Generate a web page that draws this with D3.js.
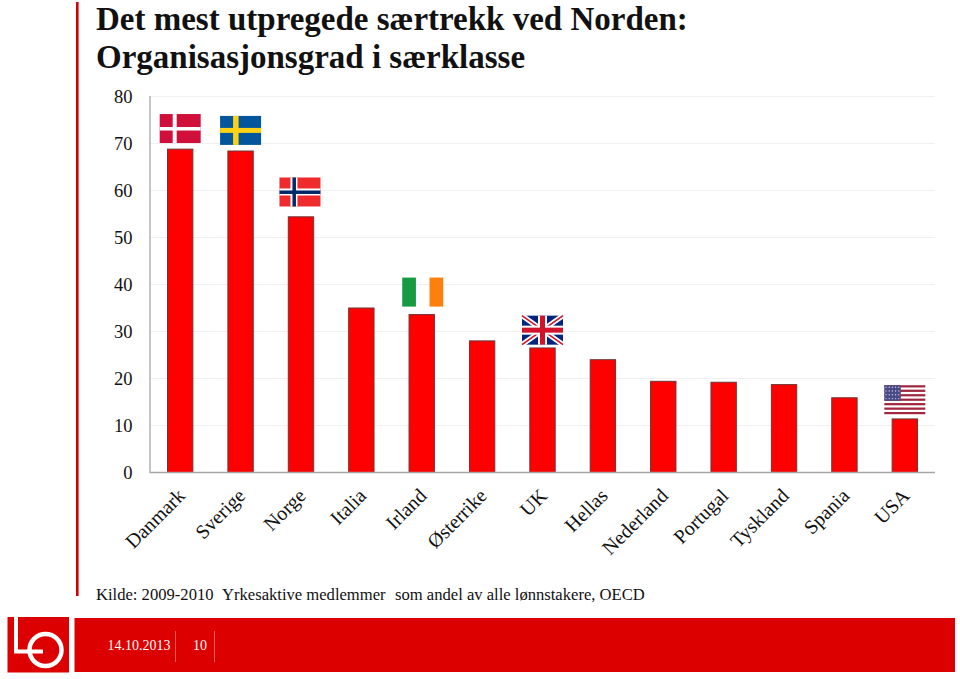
<!DOCTYPE html>
<html><head><meta charset="utf-8">
<script src="https://cdn.jsdelivr.net/npm/d3@7"></script>
<style>html,body{margin:0;padding:0;background:#fff}svg{display:block}text{font-family:"Liberation Serif",serif}</style>
</head><body><svg id="c" width="960" height="679"></svg>
<script>
const categories=["Danmark","Sverige","Norge","Italia","Irland","Østerrike","UK","Hellas","Nederland","Portugal","Tyskland","Spania","USA"];
const values=[68.8,68.4,54.4,35.0,33.6,28.0,26.5,24.0,19.4,19.2,18.7,15.9,11.4];
const yTicks=[0,10,20,30,40,50,60,70,80];
const titleLines=["Det mest utpregede særtrekk ved Norden:","Organisasjonsgrad i særklasse"];
const sourceParts=["Kilde: 2009-2010","Yrkesaktive medlemmer","som andel av alle lønnstakere, OECD"];
const footerDate="14.10.2013";
const footerPage="10";
const flagLevels={Danmark:70.1,Sverige:69.7,Norge:56.6,Irland:35.3,UK:27.2,USA:12.4};
const flagNudge={Norge:-1,Irland:1};

const svg=d3.select("#c");
const y=d3.scaleLinear().domain([0,80]).range([472.5,96.5]);
const x=d3.scaleBand().domain(categories).range([150,935]).paddingInner(0.58).paddingOuter(0.29);

// left rule
svg.append("rect").attr("x",76).attr("y",2).attr("width",2.6).attr("height",594).attr("fill","#d40000");

// title
svg.selectAll("text.t").data(titleLines).join("text").attr("class","t")
 .attr("x",96).attr("y",(d,i)=>30+i*38).attr("font-size",33).attr("font-weight","bold").attr("fill","#111").text(d=>d);

// grid
svg.append("g").selectAll("line").data(yTicks.slice(1)).join("line")
 .attr("x1",150).attr("x2",935).attr("y1",d=>y(d)).attr("y2",d=>y(d)).attr("stroke","#f0f0f0").attr("stroke-width",1);

// y tick labels
svg.append("g").selectAll("text").data(yTicks).join("text")
 .attr("x",132.5).attr("y",d=>y(d)+6.5).attr("text-anchor","end").attr("font-size",18.5).attr("fill","#111").text(d=>d);

// bars
svg.append("g").selectAll("rect").data(categories).join("rect")
 .attr("x",d=>x(d)).attr("width",x.bandwidth())
 .attr("y",(d,i)=>y(values[i])).attr("height",(d,i)=>y(0)-y(values[i]))
 .attr("fill","#ff0000").attr("stroke","#6e3434").attr("stroke-width",1);

// axes
svg.append("line").attr("x1",150).attr("x2",150).attr("y1",96).attr("y2",473).attr("stroke","#a6a6a6").attr("stroke-width",1.3);
svg.append("line").attr("x1",150).attr("x2",935).attr("y1",y(0)).attr("y2",y(0)).attr("stroke","#a6a6a6").attr("stroke-width",1.6);

// category labels
svg.append("g").selectAll("text").data(categories).join("text")
 .attr("text-anchor","end").attr("font-size",20).attr("fill","#111")
 .attr("transform",d=>`translate(${x(d)+x.bandwidth()/2+6},${497}) rotate(-45)`).text(d=>d);

// flags
const FW=41,FH=29;
function flag(name,draw){
 const cx=x(name)+x.bandwidth()/2+(flagNudge[name]||0);
 const g=svg.append("g").attr("transform",`translate(${cx-FW/2},${y(flagLevels[name])-FH})`);
 draw(g);
}
const R=(g,a,b,w,h,f)=>g.append("rect").attr("x",a).attr("y",b).attr("width",w).attr("height",h).attr("fill",f);
flag("Danmark",g=>{R(g,0,0,FW,FH,"#d0103a");R(g,13,0,4,FH,"#fff");R(g,0,13,FW,3.5,"#fff");});
flag("Sverige",g=>{R(g,0,0,FW,FH,"#04569c");R(g,13,0,5.5,FH,"#fcd116");R(g,0,12,FW,5,"#fcd116");});
flag("Norge",g=>{R(g,0,0,FW,FH,"#ef2b2d");R(g,11,0,7,FH,"#fff");R(g,0,11,FW,7,"#fff");R(g,13,0,3.5,FH,"#002868");R(g,0,13,FW,3.5,"#002868");});
flag("Irland",g=>{R(g,0,0,13.7,FH,"#169b43");R(g,27.3,0,13.7,FH,"#ff7f0e");});
flag("UK",g=>{
 R(g,0,0,FW,FH,"#00247d");
 g.append("path").attr("d",`M0,0L${FW},${FH}M${FW},0L0,${FH}`).attr("stroke","#fff").attr("stroke-width",5);
 g.append("path").attr("d",`M0,0L${FW},${FH}M${FW},0L0,${FH}`).attr("stroke","#cf142b").attr("stroke-width",1.6);
 R(g,16,0,9,FH,"#fff");R(g,0,10,FW,9,"#fff");
 R(g,18,0,5,FH,"#cf142b");R(g,0,12,FW,5,"#cf142b");
});
flag("USA",g=>{
 R(g,0,0,FW,FH,"#fff");
 d3.range(7).forEach(i=>R(g,0,i*4.46,FW,2.23,"#a3263f"));
 R(g,0,0,16.5,15.6,"#4a4a86");
 d3.range(4).forEach(r=>d3.range(5).forEach(c=>{
   g.append("circle").attr("cx",1.7+c*3.2).attr("cy",2+r*3.8).attr("r",.7).attr("fill","#c8c8e0");
 }));
});

// source
const srcX=[96,222,395];
const srcSize=16.6;
svg.selectAll("text.s").data(sourceParts).join("text").attr("class","s")
 .attr("x",(d,i)=>srcX[i]).attr("y",600).attr("font-size",srcSize).attr("fill","#111").text(d=>d);

// footer
svg.append("rect").attr("x",74.5).attr("y",618).attr("width",880.5).attr("height",54).attr("fill","#dd0000");
svg.append("rect").attr("x",7.5).attr("y",617).attr("width",61.5).attr("height",55.5).attr("fill","#dd0000");
svg.append("path").attr("d","M16,617V651.5H43").attr("fill","none").attr("stroke","#fff").attr("stroke-width",4);
svg.append("circle").attr("cx",45.5).attr("cy",650).attr("r",16).attr("fill","none").attr("stroke","#fff").attr("stroke-width",4.5);
svg.append("text").attr("x",139).attr("y",650).attr("text-anchor","middle").attr("font-size",14).attr("fill","#fff").text(footerDate);
svg.append("text").attr("x",200).attr("y",650).attr("text-anchor","middle").attr("font-size",14).attr("fill","#fff").text(footerPage);
[175.5,214.5].forEach(px=>svg.append("line").attr("x1",px).attr("x2",px).attr("y1",631).attr("y2",662).attr("stroke","#ee5a5a").attr("stroke-width",1));
</script></body></html>
